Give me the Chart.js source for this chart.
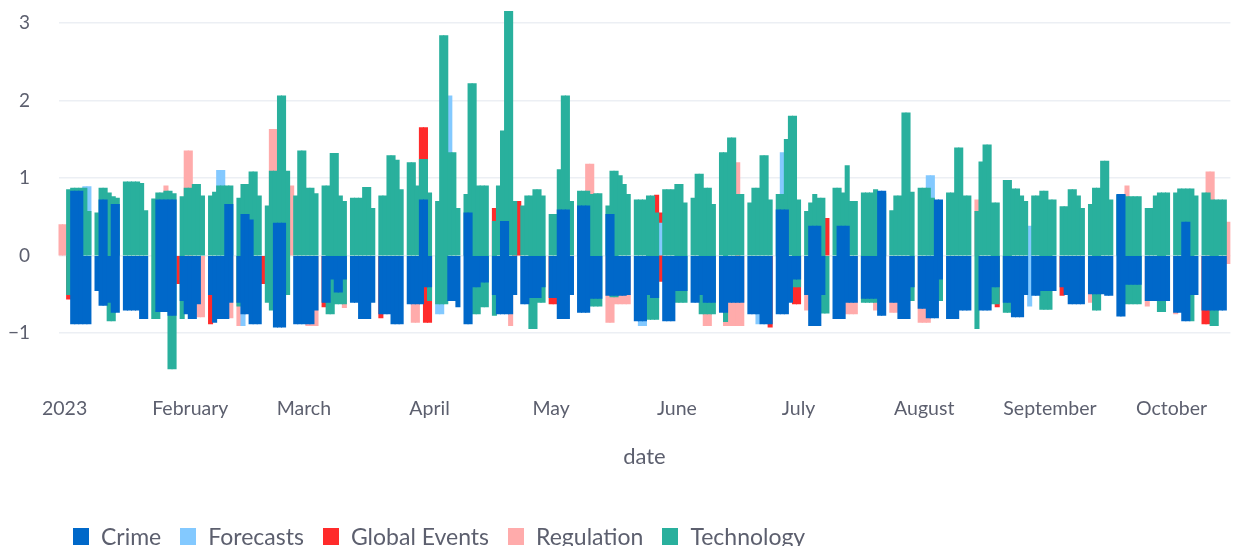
<!DOCTYPE html>
<html>
<head>
<meta charset="utf-8">
<script src="https://cdn.jsdelivr.net/npm/chart.js@4.4.1/dist/chart.umd.min.js"></script>
<style>
  body { margin: 0; background: #fff; overflow: hidden; }
  #wrap { position: relative; width: 1235px; height: 546px; }
  #legend {
    position: absolute; left: 73px; top: 522px;
    display: flex; align-items: center; gap: 19px;
    font: 23px Lato, sans-serif; color: #5c5f6e; white-space: nowrap;
  }
  #legend .item { display: flex; align-items: center; gap: 12px; }
  #legend .sw { width: 16px; height: 17px; display: inline-block; }
</style>
</head>
<body>
<div id="wrap">
  <canvas id="chart"></canvas>
  <div id="legend"></div>
</div>
<script>
const _ = null;

// x positions are day indexes: 0 = 2022-12-31, 1 = 2023-01-01, ... (one row per week, Mon..Sun)
const monthTicks = [1, 32, 60, 91, 121, 152, 182, 213, 244, 274];
const monthLabels = ['2023', 'February', 'March', 'April', 'May', 'June', 'July', 'August', 'September', 'October'];
const yTicks = [-1, 0, 1, 2, 3];

const categories = ['Crime', 'Forecasts', 'Global Events', 'Regulation', 'Technology'];
const colors = ['#0068c9', '#83c9ff', '#ff2b2b', '#ffabab', '#29b09d'];
const drawOrder = [0, 2, 4, 3, 1]; // lower = drawn on top

const techHi = [_, _,
  .85,.87,.87,.87,.87,.57,_,
  .55,.87,.87,.81,.76,.74,_,
  .95,.95,.95,.95,.93,.58,_,
  .73,.81,.81,.83,.83,.80,_,
  .76,.87,.87,.92,.92,.77,_,
  .77,.82,.90,.90,.90,.90,_,
  .74,.92,.92,1.08,1.08,.77,_,
  .64,1.09,1.09,2.06,2.06,1.09,_,
  .77,1.35,1.35,.87,.87,.80,_,
  .90,.90,1.32,1.32,.77,.70,_,
  .74,.74,.74,.88,.88,.61,_,
  .77,.77,1.29,1.29,1.23,.85,_,
  1.20,1.20,.90,1.24,1.24,.81,_,
  .70,2.84,2.84,1.33,1.33,.61,_,
  .79,2.22,2.22,.90,.90,.90,_,
  .44,.90,1.61,3.15,3.15,.70,_,
  .64,.77,.77,.85,.85,.77,_,
  .53,.53,1.11,2.06,2.06,.70,_,
  .83,.83,.83,.79,.80,.80,_,
  .64,1.09,1.09,1.03,.92,.79,_,
  .72,.72,.72,.77,.77,.55,_,
  .85,.85,.85,.92,.92,.68,_,
  .74,1.05,1.05,.87,.87,.66,_,
  1.33,1.33,1.52,1.52,.79,.79,_,
  .68,.87,.87,1.29,1.29,.72,_,
  .79,.79,1.50,1.80,1.80,.72,_,
  .57,.68,.79,.74,.74,_,_,
  .87,.87,.81,1.16,.70,.70,_,
  .81,.81,.81,.85,.80,.80,_,
  .58,.77,.77,1.84,1.84,.82,_,
  .87,.87,.87,.74,.70,.70,_,
  .81,.81,1.39,1.39,.77,.77,_,
  .57,1.21,1.43,1.43,.68,.68,_,
  .97,.97,.86,.86,.77,.70,_,
  .77,.77,.83,.83,.72,.72,_,
  .63,.63,.85,.85,.77,.61,_,
  .66,.87,.87,1.22,1.22,.72,_,
  .78,.78,.76,.76,.76,.76,_,
  .61,.61,.77,.81,.81,.81,_,
  .81,.86,.86,.86,.86,.77,_,
  .81,.81,.72,.72,.72,.72,_
];

const techLo = [_, _,
  -.50,_,_,_,_,_,_,
  _,_,_,-.84,-.84,_,_,
  _,_,_,_,_,_,_,
  -.81,-.81,_,_,-1.46,-1.46,_,
  -.81,_,_,_,_,_,_,
  _,_,_,_,_,_,_,
  -.65,_,_,_,_,_,_,
  -.60,-.70,_,_,_,-.50,_,
  _,_,_,_,_,_,_,
  _,-.75,-.75,-.62,-.62,-.62,_,
  _,_,_,_,_,_,_,
  _,_,_,_,_,_,_,
  _,_,_,_,_,-.58,_,
  -.62,-.62,-.62,_,_,_,_,
  _,_,-.75,-.75,-.66,-.66,_,
  -.77,_,_,_,_,_,_,
  _,_,-.94,-.94,-.60,-.60,_,
  _,_,_,_,_,_,_,
  _,_,_,-.65,-.65,-.65,_,
  _,-.53,-.53,_,_,_,_,
  _,_,_,-.82,-.82,-.82,_,
  _,_,_,-.60,-.60,-.60,_,
  _,_,-.75,-.75,-.75,-.75,_,
  _,-.85,_,_,_,_,_,
  _,_,_,_,_,_,_,
  _,_,_,_,-.40,-.40,_,
  _,_,_,_,-.74,-.74,_,
  _,_,_,_,_,_,_,
  -.60,-.60,-.60,-.60,_,_,_,
  _,_,_,_,_,-.58,_,
  _,_,_,_,_,-.58,_,
  _,_,_,_,_,_,_,
  -.94,_,_,_,-.62,-.62,_,
  -.73,-.73,_,_,_,_,_,
  _,_,-.69,-.69,-.69,_,_,
  _,_,_,_,_,_,_,
  _,-.70,-.70,_,_,_,_,
  _,_,-.62,-.62,-.62,-.62,_,
  _,_,_,-.72,-.72,_,_,
  _,_,_,_,-.84,_,_,
  _,_,-.90,-.90,_,_,_
];

const crimeHi = [_, _,
  _,.83,.83,.83,_,_,_,
  _,.72,.72,_,.66,.66,_,
  _,_,_,_,_,_,_,
  _,.72,.72,.72,.72,.72,_,
  _,_,_,_,_,_,_,
  _,_,_,_,.66,.66,_,
  _,.53,.53,.46,_,_,_,
  _,_,.42,.42,.42,_,_,
  _,_,_,_,_,_,_,
  _,_,_,_,_,_,_,
  _,_,_,_,_,_,_,
  _,_,_,_,_,_,_,
  _,_,_,.72,.72,_,_,
  _,_,_,_,_,_,_,
  .55,.55,_,_,_,_,_,
  _,_,.44,.44,_,_,_,
  _,_,_,_,_,_,_,
  _,_,.59,.59,.59,_,_,
  .64,.64,.64,_,_,_,_,
  .53,.53,_,_,_,_,_,
  _,_,_,_,_,_,_,
  _,_,_,_,_,_,_,
  _,_,_,_,_,_,_,
  _,_,_,_,_,_,_,
  _,_,_,_,_,_,_,
  .59,.59,.59,_,_,_,_,
  _,.38,.38,.38,_,_,_,
  _,.38,.38,.38,_,_,_,
  _,_,_,_,.83,.83,_,
  _,_,_,_,_,_,_,
  _,_,_,_,.72,.72,_,
  _,_,_,_,_,_,_,
  _,_,_,_,_,_,_,
  _,_,_,_,_,_,_,
  _,_,_,_,_,_,_,
  _,_,_,_,_,_,_,
  _,_,_,_,_,_,_,
  .79,.79,_,_,_,_,_,
  _,_,_,_,_,_,_,
  _,_,.43,.43,_,_,_,
  _,_,_,_,_,_,_
];

const crimeLo = [_, _,
  _,-.88,-.88,-.88,-.88,-.88,_,
  -.45,-.64,-.64,-.60,-.73,-.73,_,
  -.70,-.70,-.70,-.70,-.81,-.81,_,
  _,-.72,-.72,-.72,-.77,-.77,_,
  -.58,-.75,-.81,-.81,-.62,_,_,
  -.50,-.86,-.81,-.81,-.81,-.60,_,
  -.60,-.75,-.75,-.88,-.88,-.88,_,
  _,_,-.92,-.92,-.92,_,_,
  -.88,-.88,-.88,-.88,-.88,-.70,_,
  -.60,-.60,-.30,-.47,-.47,-.30,_,
  -.60,-.60,-.81,-.81,-.81,-.60,_,
  -.75,-.75,-.75,-.88,-.88,-.88,_,
  -.62,-.62,-.62,-.62,-.40,-.40,_,
  _,_,_,-.58,-.58,-.66,_,
  -.88,-.88,-.40,-.40,-.34,-.34,_,
  -.50,-.75,-.75,-.75,-.75,-.50,_,
  -.62,-.62,-.54,-.54,-.54,-.40,_,
  -.54,-.54,-.81,-.81,-.81,-.50,_,
  -.73,-.73,-.73,-.55,-.55,-.55,_,
  -.51,-.51,-.51,-.51,-.51,-.50,_,
  -.84,-.84,-.84,-.50,-.54,-.54,_,
  -.84,-.84,-.84,-.45,-.45,-.45,_,
  -.60,-.60,-.50,-.60,-.60,-.60,_,
  -.73,-.73,-.60,-.60,-.60,-.60,_,
  -.75,-.75,-.75,-.88,-.88,-.88,_,
  -.75,-.75,-.75,-.60,-.30,-.30,_,
  -.50,-.90,-.90,-.90,-.50,_,_,
  -.81,-.81,-.81,-.60,-.60,-.60,_,
  -.55,-.55,-.55,-.55,-.77,-.77,_,
  -.60,-.60,-.81,-.81,-.81,-.40,_,
  -.68,-.68,-.80,-.80,-.80,-.30,_,
  -.81,-.81,-.81,-.70,-.70,-.70,_,
  _,-.70,-.70,-.70,-.40,-.40,_,
  -.60,-.60,-.79,-.79,-.79,-.50,_,
  -.51,-.51,-.45,-.45,-.45,-.45,_,
  -.40,-.50,-.62,-.62,-.62,-.62,_,
  -.49,-.49,-.49,-.49,-.51,-.51,_,
  -.78,-.78,-.37,-.37,-.37,-.37,_,
  -.58,-.58,-.58,-.58,-.58,-.58,_,
  -.73,-.73,-.84,-.84,-.50,-.50,_,
  -.70,-.70,-.70,-.70,-.70,-.70,_
];

// sparse series: [day index, low, high]
const forecasts = [
  [6, _, .89], [7, _, .89], [39, _, 1.10], [40, _, 1.10], [45, -.90, _],
  [93, -.75, _], [94, -.75, _], [96, _, 2.06], [143, -.90, _], [144, -.90, _],
  [148, _, .42], [172, -.88, _], [178, _, 1.33], [214, _, 1.03], [215, _, 1.03],
  [239, -.65, .38]
];

const globalEvents = [
  [2, -.56, _], [29, -.36, _], [37, -.88, _], [50, -.36, _], [65, -.66, _],
  [79, -.80, _], [89, _, 1.65], [90, -.86, 1.65], [91, -.86, _], [107, _, .61],
  [112, _, .70], [113, _, .70], [121, -.62, _], [122, -.62, _], [147, _, .78],
  [148, -.33, .55], [175, -.92, _], [181, -.62, _], [182, -.62, _], [189, _, .48],
  [231, -.66, _], [247, -.51, _], [282, -.88, _], [283, -.88, _]
];

const regulation = [
  [0, _, .40], [1, _, .40], [26, _, .90], [31, _, 1.35], [32, _, 1.35],
  [34, -.79, _], [35, -.79, _], [42, -.80, _], [44, -.90, _], [52, _, 1.63],
  [53, _, 1.63], [57, _, .90], [61, -.90, _], [62, -.90, _], [63, -.90, _],
  [70, -.67, _], [87, -.86, _], [88, -.86, _], [111, -.90, _], [130, _, 1.18],
  [131, _, 1.18], [135, -.86, _], [136, -.86, _], [137, -.62, _], [138, -.62, _],
  [139, -.62, _], [140, -.62, _], [159, -.90, _], [160, -.90, _], [164, -.90, _],
  [165, -.90, _], [166, -.90, _], [167, -.90, 1.20], [168, -.90, _], [184, -.70, _],
  [194, -.75, _], [195, -.75, _], [196, -.75, _], [201, -.70, _], [205, -.73, _],
  [206, -.73, _], [212, -.86, _], [213, -.86, _], [214, -.86, _], [226, _, .72],
  [254, -.60, _], [263, _, .90], [268, -.65, _], [275, -.75, _], [283, _, 1.08],
  [284, _, 1.08], [288, -.10, .43]
];

const textColor = '#5c5f6e';

// Helpers to turn the arrays into floating bars [low, high]
function dailyBars(lo, hi) {
  return hi.map((h, i) => (h === null && lo[i] === null) ? null : { x: i, y: [lo[i] ?? 0, h ?? 0] })
    .filter(p => p);
}
function sparseBars(rows) {
  return rows.map(([d, lo, hi]) => ({ x: d, y: [lo ?? 0, hi ?? 0] }));
}

const seriesData = [
  dailyBars(crimeLo, crimeHi),
  sparseBars(forecasts),
  sparseBars(globalEvents),
  sparseBars(regulation),
  dailyBars(techLo, techHi)
];

const datasets = categories.map((name, i) => ({
  label: name,
  data: seriesData[i],
  backgroundColor: colors[i],
  borderWidth: 0,
  inflateAmount: 0.5,
  order: drawOrder[i],
  grouped: false,
  barPercentage: 1,
  categoryPercentage: 1
}));

const ctx = document.getElementById('chart').getContext('2d');
new Chart(ctx, {
  type: 'bar',
  data: { datasets },
  options: {
    responsive: true,
    maintainAspectRatio: false,
    animation: false,
    layout: { padding: { left: 0, right: 4.6, top: 0, bottom: 0 } },
    plugins: {
      legend: { display: false },
      tooltip: { enabled: false }
    },
    scales: {
      x: {
        type: 'linear',
        min: -0.5,
        max: 288.5,
        offset: false,
        grid: { display: false, drawTicks: false },
        border: { display: false },
        afterBuildTicks: (scale) => { scale.ticks = monthTicks.map(v => ({ value: v })); },
        ticks: {
          autoSkip: false,
          maxRotation: 0,
          padding: 10,
          color: textColor,
          font: { family: 'Lato', size: 19.5 },
          callback: (value, index) => monthLabels[index]
        },
        title: {
          display: true,
          text: 'date',
          color: textColor,
          font: { family: 'Lato', size: 22 },
          padding: { top: 0, bottom: 76 }
        },
        afterFit: (scale) => {
          scale.height = 159.4;
          scale.paddingLeft = 0;
          scale.paddingRight = 0;
        }
      },
      y: {
        min: -1.69,
        max: 3.3,
        grid: { color: '#eceff4', lineWidth: 1.5, drawTicks: false },
        border: { display: false },
        afterBuildTicks: (scale) => { scale.ticks = yTicks.map(v => ({ value: v })); },
        ticks: {
          padding: 28.5,
          color: textColor,
          font: { family: 'Lato', size: 19 },
          callback: (v) => v < 0 ? '\u2212' + Math.abs(v) : String(v)
        },
        afterFit: (scale) => {
          scale.width = 58.5;
          scale.paddingTop = 0;
          scale.paddingBottom = 0;
        }
      }
    }
  }
});

// Legend (plotly style, left aligned at the bottom)
const legend = document.getElementById('legend');
categories.forEach((name, i) => {
  const item = document.createElement('span');
  item.className = 'item';
  const sw = document.createElement('span');
  sw.className = 'sw';
  sw.style.background = colors[i];
  const label = document.createElement('span');
  label.textContent = name;
  item.appendChild(sw);
  item.appendChild(label);
  legend.appendChild(item);
});
</script>
</body>
</html>
